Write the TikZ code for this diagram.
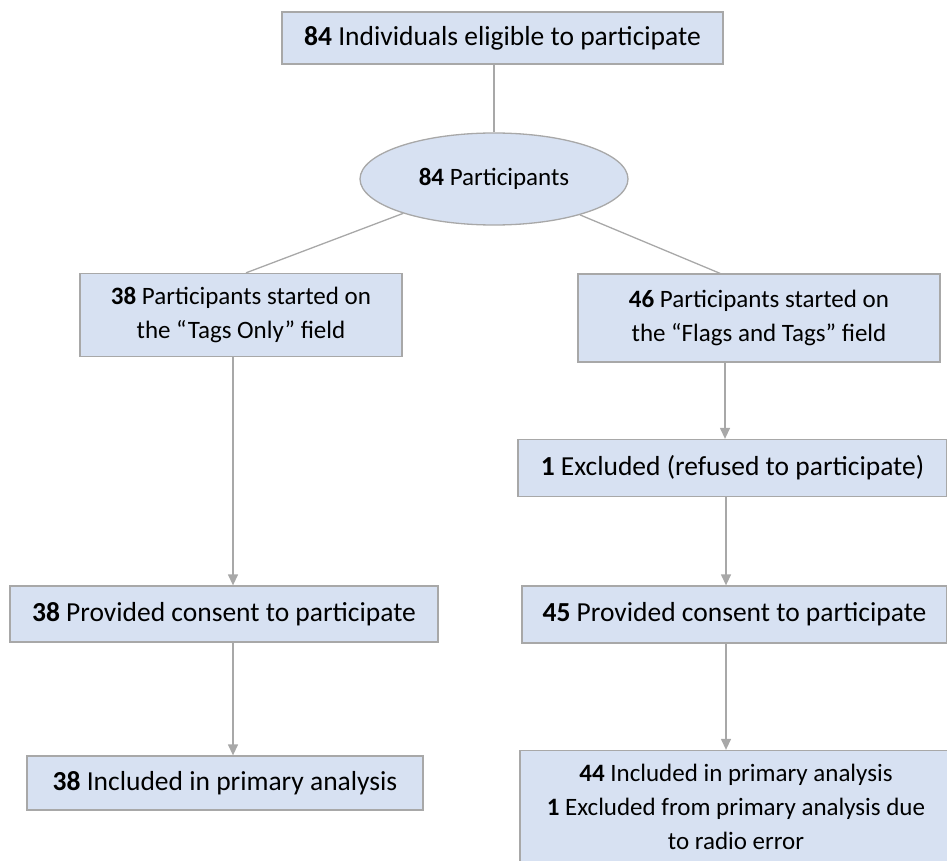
\documentclass[tikz,border=0pt]{standalone}
\usepackage{fontspec}
\setmainfont{Carlito}
\usetikzlibrary{shapes.geometric,arrows.meta}
\definecolor{boxblue}{HTML}{D7E1F2}
\definecolor{edgegray}{HTML}{A8A8A8}

\begin{document}
\begin{tikzpicture}
  [x=1pt,y=-1pt,
   every node/.style={font=\fontsize{25}{34}\selectfont,fill=boxblue,draw=edgegray,
     line width=1.3pt,align=center,inner sep=0pt},
   box/.style={rectangle},
   bigbox/.style={rectangle,font=\fontsize{27.5}{34}\selectfont},
   link/.style={draw=edgegray,line width=1.3pt},
   arr/.style={link,-{Triangle[width=10pt,length=11pt]}}]
  \useasboundingbox (0,0) rectangle (947,861);
  \node (top)[bigbox,minimum width=441,minimum height=52] at (502.5,38) {\textbf{84} Individuals eligible to participate};
  \node (ell)[ellipse,minimum width=268,minimum height=92] at (494,179) {\textbf{84} Participants};
  \node (tags)[box,minimum width=322,minimum height=83] at (241,315) {\textbf{38} Participants started on\\the “Tags Only” field};
  \node (flags)[box,minimum width=362,minimum height=88] at (759,318) {\textbf{46} Participants started on\\the “Flags and Tags” field};
  \node (excl)[bigbox,minimum width=429,minimum height=57] at (732.5,468) {\textbf{1} Excluded (refused to participate)};
  \node (prov38)[bigbox,minimum width=428,minimum height=56] at (224,614) {\textbf{38} Provided consent to participate};
  \node (prov45)[bigbox,minimum width=425,minimum height=57] at (734.5,614.5) {\textbf{45} Provided consent to participate};
  \node (incl38)[bigbox,minimum width=396,minimum height=54] at (225,783) {\textbf{38} Included in primary analysis};
  \node (incl44)[box,minimum width=432,minimum height=112] at (736,806.5) {\textbf{44} Included in primary analysis\\\textbf{1} Excluded from primary analysis due\\to radio error};

  \draw[link] (ell.north) -- (ell.north |- top.south);
  \draw[link] (ell) -- ([xshift=5pt]tags.north);
  \draw[link] (ell) -- ([xshift=-39pt]flags.north);

  \foreach \from/\to/\dx in {tags/prov38/-8,prov38/incl38/9,flags/excl/-34,excl/prov45/-6.5,prov45/incl44/-8.5}
    \draw[arr] ([xshift=\dx pt]\from.south) -- ([xshift=\dx pt]\from.south |- \to.north);

\end{tikzpicture}
\end{document}
